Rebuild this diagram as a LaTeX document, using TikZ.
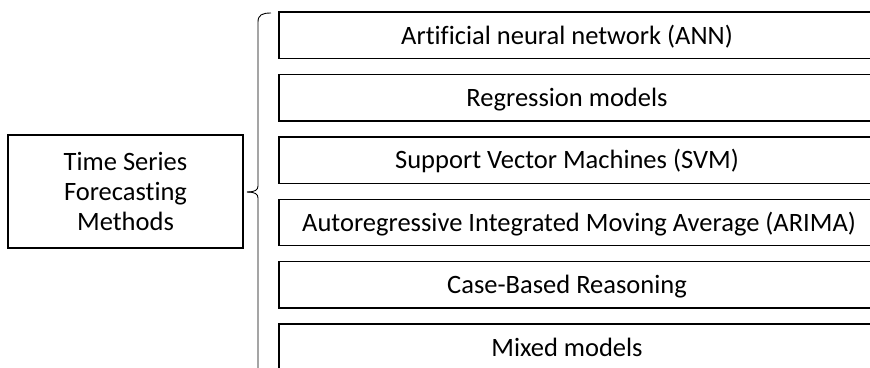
\documentclass[tikz,border=0pt]{standalone}
\usepackage{fontspec}
\setmainfont[Ligatures=NoCommon]{Carlito}
\begin{document}
\begin{tikzpicture}[x=1pt,y=-1pt,
  itembox/.style={draw=black,line width=1.4pt},
  lbl/.style={font=\fontsize{26.5}{30}\selectfont,inner sep=0pt,anchor=base},
  bracestyle/.style={draw=black,line width=0.9pt}]
\useasboundingbox (0,0) rectangle (870,367);
\clip (0,0) rectangle (870,367);
% left box
\node[draw=black,line width=1.4pt,minimum width=235pt,minimum height=113pt,inner sep=0pt,
  align=center,font=\fontsize{26.5}{30}\selectfont] (src) at (125.5,191.5) {Time Series\\Forecasting\\Methods};
% right boxes
\foreach \i in {0,...,5}{
  \path[itembox] (279,{12+62.4*\i}) rectangle (880,{12+62.4*\i+46.5});
}
\node[lbl] (t1) at (567,44) {Artificial neural network (ANN)};
\node[lbl] (t2) at (567,106.4) {Regression models};
\node[lbl] (t3) at (567,168.8) {Support Vector Machines (SVM)};
\node[lbl] (t4) at (579,231.2) {Autoregressive Integrated Moving Average (ARIMA)};
\node[lbl] (t5) at (567,293.6) {Case-Based Reasoning};
\node[lbl] (t6) at (567,356) {Mixed models};
% brace
\coordinate (btop) at (271,13);
\coordinate (bmid) at (247,192);
\draw[bracestyle] (btop) .. controls (262,13) and (258,15) .. (258,22) -- (258,186)
  .. controls (258,190) and (255,192) .. (bmid);
\draw[bracestyle] (bmid) .. controls (255,192) and (258,194) .. (258,198) -- (258,370);
\end{tikzpicture}
\end{document}
